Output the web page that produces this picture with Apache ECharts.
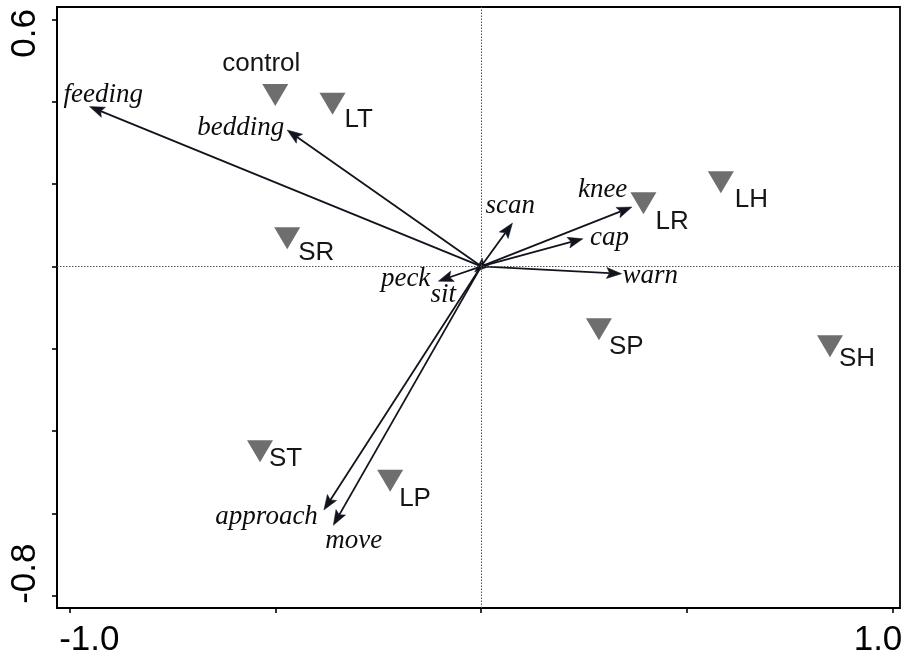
<!DOCTYPE html>
<html>
<head>
<meta charset="utf-8">
<script src="https://cdn.jsdelivr.net/npm/echarts@6/dist/echarts.min.js"></script>
<style>
  html, body { margin: 0; padding: 0; background: #ffffff; }
  #chart { width: 909px; height: 658px; }
</style>
</head>
<body>
<div id="chart"></div>
<script>
// Behaviour vectors (biplot arrows) on the first two ordination axes
const behaviours = ['feeding', 'bedding', 'scan', 'knee', 'cap', 'warn', 'peck', 'sit', 'approach', 'move'];
const behaviourAxis1 = [-0.951, -0.471, 0.076, 0.366, 0.247, 0.341, -0.104, -0.016, -0.382, -0.359];
const behaviourAxis2 = [0.388, 0.331, 0.105, 0.144, 0.067, -0.018, -0.036, -0.014, -0.592, -0.629];

// Treatment centroids
const treatments = ['control', 'LT', 'SR', 'LR', 'LH', 'SP', 'SH', 'ST', 'LP'];
const treatmentAxis1 = [-0.500, -0.361, -0.471, 0.394, 0.582, 0.286, 0.847, -0.537, -0.221];
const treatmentAxis2 = [0.416, 0.395, 0.068, 0.153, 0.204, -0.153, -0.194, -0.449, -0.521];

// Tick marks and the ticks that carry a label
const xTicks = [-1.0, -0.5, 0, 0.5, 1.0];
const yTicks = [-0.8, -0.6, -0.4, -0.2, 0, 0.2, 0.4, 0.6];
const xTickLabels = [-1.0, 1.0];
const yTickLabels = [-0.8, 0.6];

// Where each arrow's name sits relative to its arrow tip (px)
const arrowLabelLayout = {
  feeding:  { dx: -26, dy: -12, align: 'left' },
  bedding:  { dx: -3,  dy: -2,  align: 'right' },
  scan:     { dx: -27, dy: -17, align: 'left' },
  knee:     { dx: -54, dy: -17, align: 'left' },
  cap:      { dx: 7,   dy: -1,  align: 'left' },
  warn:     { dx: 1,   dy: 2,   align: 'left' },
  peck:     { dx: -8,  dy: -2,  align: 'right' },
  sit:      { dx: -44, dy: 23,  align: 'left' },
  approach: { dx: -6,  dy: 7,   align: 'right' },
  move:     { dx: -8,  dy: 16,  align: 'left' }
};

// Where each treatment name sits relative to its marker centre (px)
const treatmentLabelLayout = {
  control: { dx: -14, dy: -31, align: 'center' },
  LT: { dx: 12, dy: 16, align: 'left' },
  SR: { dx: 11, dy: 14, align: 'left' },
  LR: { dx: 12, dy: 18, align: 'left' },
  LH: { dx: 14, dy: 17, align: 'left' },
  SP: { dx: 10, dy: 18, align: 'left' },
  SH: { dx: 9,  dy: 13, align: 'left' },
  ST: { dx: 9,  dy: 8,  align: 'left' },
  LP: { dx: 9,  dy: 18, align: 'left' }
};

const ARROW_COLOR = '#11141c';
const SANS = '"Liberation Sans", Arial, sans-serif';
const SERIF = '"Liberation Serif", "Times New Roman", serif';

const arrowData = behaviours.map((name, i) => [behaviourAxis1[i], behaviourAxis2[i], name]);
const treatmentData = treatments.map((name, i) => {
  const lay = treatmentLabelLayout[name];
  return {
    name: name,
    value: [treatmentAxis1[i], treatmentAxis2[i]],
    label: { offset: [lay.dx, lay.dy], align: lay.align }
  };
});

function renderArrow(params, api) {
  const name = arrowData[params.dataIndex][2];
  const o = api.coord([0, 0]);
  const t = api.coord([api.value(0), api.value(1)]);
  const vx = t[0] - o[0], vy = t[1] - o[1];
  const len = Math.hypot(vx, vy) || 1;
  const ux = vx / len, uy = vy / len;
  const nx = -uy, ny = ux;
  const L = 15, W = 5.5, notch = 3;
  const base = [t[0] - ux * L, t[1] - uy * L];
  const notchPt = [t[0] - ux * (L - notch), t[1] - uy * (L - notch)];
  const lay = arrowLabelLayout[name];
  return {
    type: 'group',
    children: [
      {
        type: 'line',
        shape: { x1: o[0], y1: o[1], x2: notchPt[0], y2: notchPt[1] },
        style: { stroke: ARROW_COLOR, lineWidth: 1.8 }
      },
      {
        type: 'polygon',
        shape: {
          points: [
            [t[0], t[1]],
            [base[0] + nx * W, base[1] + ny * W],
            notchPt,
            [base[0] - nx * W, base[1] - ny * W]
          ]
        },
        style: { fill: ARROW_COLOR, stroke: ARROW_COLOR, lineWidth: 0.5 }
      },
      {
        type: 'text',
        x: t[0] + lay.dx,
        y: t[1] + lay.dy,
        style: {
          text: name,
          font: 'italic 27px ' + SERIF,
          fill: '#0d0d0d',
          align: lay.align,
          verticalAlign: 'middle'
        }
      }
    ]
  };
}

const chart = echarts.init(document.getElementById('chart'), null, { renderer: 'canvas' });

chart.setOption({
  animation: false,
  backgroundColor: '#ffffff',
  grid: {
    left: 57, right: 9, top: 7, bottom: 49,
    show: true, borderColor: '#000000', borderWidth: 1.8, backgroundColor: 'transparent'
  },
  xAxis: {
    type: 'value',
    min: -1.030, max: 1.017,
    axisLine: { show: true, onZero: false, lineStyle: { color: '#000', width: 2 } },
    axisTick: { show: true, customValues: xTicks, length: 5, lineStyle: { color: '#000', width: 1.6 } },
    axisLabel: {
      show: true,
      customValues: xTickLabels,
      margin: 15,
      color: '#000',
      fontFamily: SANS,
      fontSize: 35,
      formatter: v => (v < 0 ? '{l|' : '{r|') + v.toFixed(1) + '}',
      rich: {
        l: { fontFamily: SANS, fontSize: 35, color: '#000', padding: [0, 0, 0, 40] },
        r: { fontFamily: SANS, fontSize: 35, color: '#000', padding: [0, 30, 0, 0] }
      }
    },
    splitLine: { show: false }
  },
  yAxis: {
    type: 'value',
    min: -0.830, max: 0.630,
    axisLine: { show: true, onZero: false, lineStyle: { color: '#000', width: 2 } },
    axisTick: { show: true, customValues: yTicks, length: 5, lineStyle: { color: '#000', width: 1.6 } },
    axisLabel: {
      show: true,
      customValues: yTickLabels,
      rotate: 90,
      margin: 14,
      color: '#000',
      fontFamily: SANS,
      fontSize: 35,
      formatter: v => (v < 0 ? '{d|' : '{u|') + v.toFixed(1) + '}',
      rich: {
        u: { fontFamily: SANS, fontSize: 35, color: '#000', padding: [0, 28, 0, 0] },
        d: { fontFamily: SANS, fontSize: 35, color: '#000', padding: [0, 0, 0, 44] }
      }
    },
    splitLine: { show: false }
  },
  series: [
    {
      name: 'treatments',
      type: 'scatter',
      z: 3,
      symbol: 'triangle',
      symbolRotate: 180,
      symbolSize: [26, 22],
      itemStyle: { color: '#6e6e6e', opacity: 1 },
      label: {
        show: true,
        position: 'inside',
        formatter: p => p.name,
        verticalAlign: 'middle',
        fontFamily: SANS,
        fontSize: 26,
        color: '#161616'
      },
      data: treatmentData,
      markLine: {
        silent: true,
        symbol: 'none',
        label: { show: false },
        lineStyle: { type: [1.5, 1.5], color: '#555555', width: 1, opacity: 1 },
        data: [{ xAxis: 0 }, { yAxis: 0 }]
      }
    },
    {
      name: 'behaviours',
      type: 'custom',
      z: 4,
      renderItem: renderArrow,
      encode: { x: 0, y: 1 },
      data: arrowData
    }
  ]
});
</script>
</body>
</html>
